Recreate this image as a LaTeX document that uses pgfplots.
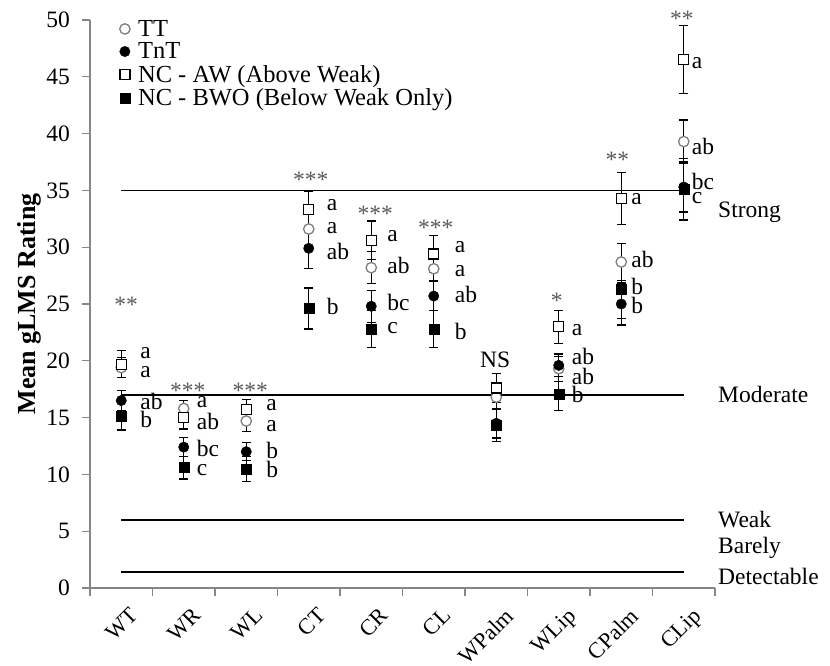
\documentclass[border=0pt]{standalone}
\usepackage{fontspec}
\setmainfont{Liberation Serif}
\usepackage{pgfplots}
\usepackage{pgfplotstable}
\pgfplotsset{compat=1.18}
\newcommand\bigf{\fontsize{23.5}{26}\selectfont}
\newcommand\xlabf{\fontsize{22.5}{25}\selectfont}
\newcommand\legf{\fontsize{24.5}{25.5}\selectfont}
\definecolor{axisgray}{HTML}{868686}
\definecolor{ttgray}{HTML}{7F7F7F}
\definecolor{stargray}{HTML}{595959}

% x = body site index, y = mean gLMS rating, e = standard error
\pgfplotstableread{
x y e
0 19.4 0.9
1 15.8 0.7
2 14.7 0.9
3 31.6 1.5
4 28.2 1.4
5 28.1 1.0
6 16.8 1.0
7 19.3 1.1
8 28.7 1.6
9 39.3 1.9
}\tt
\pgfplotstableread{
x y e
0 16.5 0.9
1 12.4 0.85
2 12.0 0.8
3 29.9 1.8
4 24.8 1.4
5 25.7 1.3
6 14.5 1.3
7 19.6 1.0
8 25.0 1.85
9 35.3 2.2
}\tnt
\pgfplotstableread{
x y e
0 19.7 1.2
1 15.0 1.0
2 15.7 0.9
3 33.3 1.6
4 30.6 1.7
5 29.4 1.6
6 17.6 1.3
7 23.0 1.45
8 34.3 2.3
9 46.5 3.0
}\ncaw
\pgfplotstableread{
x y e
0 15.1 1.2
1 10.6 1.0
2 10.5 1.1
3 24.6 1.8
4 22.8 1.6
5 22.8 1.6
6 14.3 1.4
7 17.1 1.5
8 26.3 2.6
9 35.1 2.7
}\ncbwo

\newcommand\lab[4]{\node[anchor=west, inner sep=0pt, font=\bigf, xshift=#3pt] at (axis cs:#1,#2) {#4};}
\newcommand\sig[4]{\node[anchor=center, inner sep=0pt, font=\bigf, text=stargray, xshift=#3pt] at (axis cs:#1,#2) {#4};}

\begin{document}
\begin{tikzpicture}
\useasboundingbox (-90pt,-78pt) rectangle (740pt,588pt);
\begin{axis}[
  at={(0,0)}, anchor=south west,
  scale only axis, width=625pt, height=568pt,
  xmin=-0.5, xmax=9.5, ymin=0, ymax=50,
  axis lines*=left,
  axis line style={axisgray, line width=1.2pt},
  tick align=outside,
  major tick length=8pt, minor tick length=8pt,
  ytick={0,5,...,50},
  xtick={0,...,9},
  xticklabels={WT,WR,WL,CT,CR,CL,WPalm,WLip,CPalm,CLip},
  minor xtick={-0.5,0.5,...,9.5},
  major x tick style={draw=none},
  minor x tick style={axisgray, line width=1.2pt},
  ytick style={axisgray, line width=1.2pt},
  tick label style={font=\bigf},
  /pgf/number format/assume math mode=true,
  xticklabel style={font=\xlabf, xshift=7.7pt, yshift=-10.4pt, rotate=45, anchor=north east, inner sep=0pt},
  yticklabel style={anchor=east, inner sep=0pt, xshift=-12pt},
  ylabel={\bfseries Mean gLMS Rating},
  ylabel style={font=\fontsize{26}{30}\selectfont, at={(axis description cs:-0.097,0.5)}, anchor=center},
  clip=false,
  legend style={at={(axis description cs:0.0472,1.0)}, anchor=north west,
    draw=none, fill=none, inner sep=0pt, font=\legf, row sep=5pt,
    column sep=8pt, nodes={inner sep=0pt}},
  legend cell align=left,
]
% reference levels of the gLMS scale
\addplot[black, line width=1.7pt, forget plot] coordinates {(0,35) (9,35)};
\addplot[black, line width=1.7pt, forget plot] coordinates {(0,17) (9,17)};
\addplot[black, line width=1.7pt, forget plot] coordinates {(0,6) (9,6)};
\addplot[black, line width=1.7pt, forget plot] coordinates {(0,1.4) (9,1.4)};

\pgfplotsset{ebar/.style={error bars/.cd, y dir=both, y explicit,
  error bar style={black, line width=1.2pt},
  error mark options={rotate=90, black, line width=1.2pt, mark size=4.5pt}}}

\addplot[black, only marks, mark=*, mark size=5.2pt,
  mark options={draw=ttgray, fill=white, line width=1.3pt}, ebar]
  table[x=x, y=y, y error=e] {\tt};
\addlegendentry{TT}
\addplot[black, only marks, mark=*, mark size=5.2pt,
  mark options={draw=black, fill=black}, ebar]
  table[x=x, y=y, y error=e] {\tnt};
\addlegendentry{TnT}
\addplot[black, only marks, mark=square*, mark size=5pt,
  mark options={draw=black, fill=white, line width=1.3pt}, ebar]
  table[x=x, y=y, y error=e] {\ncaw};
\addlegendentry{NC - AW (Above Weak)}
\addplot[black, only marks, mark=square*, mark size=5pt,
  mark options={draw=black, fill=black}, ebar]
  table[x=x, y=y, y error=e] {\ncbwo};
\addlegendentry{NC - BWO (Below Weak Only)}

% significance stars
\sig{0}{24.9}{5}{**}
\sig{1}{17.4}{4}{***}
\sig{2}{17.4}{4}{***}
\sig{3}{35.9}{2}{***}
\sig{4}{32.9}{4}{***}
\sig{5}{31.7}{2}{***}
\node[anchor=center, inner sep=0pt, font=\bigf, xshift=-1pt] at (axis cs:6,20.1) {NS};
\sig{7}{25.3}{-2}{*}
\sig{8}{37.7}{-4}{**}
\sig{9}{50.1}{-2}{**}

% group letters
\lab{0}{20.65}{19}{a}\lab{0}{19.0}{19}{a}\lab{0}{16.45}{19}{ab}\lab{0}{14.8}{19}{b}
\lab{1}{16.4}{13}{a}\lab{1}{14.65}{13}{ab}\lab{1}{12.3}{13}{bc}\lab{1}{10.4}{13}{c}
\lab{2}{16.1}{20}{a}\lab{2}{14.26}{20}{a}\lab{2}{12.15}{20}{b}\lab{2}{10.45}{20}{b}
\lab{3}{33.7}{18}{a}\lab{3}{31.7}{18}{a}\lab{3}{29.6}{18}{ab}\lab{3}{24.8}{18}{b}
\lab{4}{31.0}{16}{a}\lab{4}{28.4}{16}{ab}\lab{4}{25.1}{16}{bc}\lab{4}{22.9}{16}{c}
\lab{5}{30.0}{21}{a}\lab{5}{27.9}{21}{a}\lab{5}{25.8}{21}{ab}\lab{5}{22.6}{21}{b}
\lab{7}{22.7}{13}{a}\lab{7}{20.4}{13}{ab}\lab{7}{18.6}{13}{ab}\lab{7}{17.0}{13}{b}
\lab{8}{34.2}{10}{a}\lab{8}{28.9}{10}{ab}\lab{8}{26.5}{10}{b}\lab{8}{24.9}{10}{b}
\lab{9}{46.2}{8}{a}\lab{9}{38.85}{8}{ab}\lab{9}{35.8}{8}{bc}\lab{9}{34.3}{8}{c}

% scale descriptors
\lab{9.5}{33.1}{3}{Strong}
\lab{9.5}{17.0}{3}{Moderate}
\lab{9.5}{6.0}{3}{Weak}
\lab{9.5}{3.5}{3}{Barely}
\lab{9.5}{1.0}{3}{Detectable}
\end{axis}
\end{tikzpicture}
\end{document}
